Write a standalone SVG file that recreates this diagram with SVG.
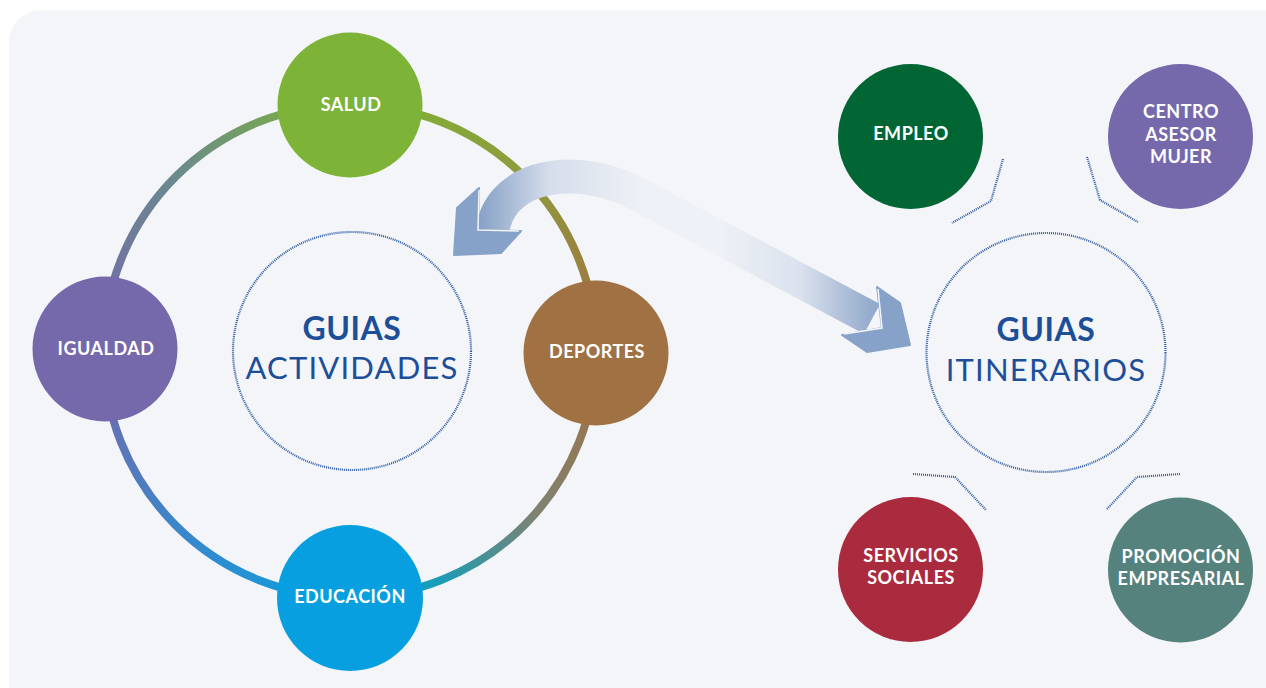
<svg xmlns="http://www.w3.org/2000/svg" width="1266" height="688" viewBox="0 0 1266 688">
<defs>
<style>
.lbl{font-family:Lato,"Open Sans","Liberation Sans",sans-serif;font-weight:700;font-size:18px;fill:#ffffff;text-anchor:middle;letter-spacing:0.5px}
.hub1{font-family:Lato,"Open Sans","Liberation Sans",sans-serif;font-weight:700;font-size:32px;fill:#1d4f99;text-anchor:middle;letter-spacing:0.5px}
.hub2{font-family:Lato,"Open Sans","Liberation Sans",sans-serif;font-weight:400;font-size:31px;fill:#1d4f99;text-anchor:middle;letter-spacing:1.2px}
.dot{fill:none;stroke:#2d5ca6;stroke-width:2.2;stroke-dasharray:1 1}
.ring{fill:none;stroke-width:8}
.chev{fill:#87a2c8;stroke:#87a2c8;stroke-width:2;stroke-linejoin:round}
</style>
<linearGradient id="gTR" gradientUnits="userSpaceOnUse" x1="350" y1="104" x2="596" y2="351"><stop offset="0" stop-color="#7db337"/><stop offset="0.5" stop-color="#8f9a3c"/><stop offset="1" stop-color="#a07243"/></linearGradient>
<linearGradient id="gBR" gradientUnits="userSpaceOnUse" x1="596" y1="351" x2="350" y2="598"><stop offset="0" stop-color="#a07243"/><stop offset="0.45" stop-color="#7f8270"/><stop offset="0.8" stop-color="#189db8"/><stop offset="1" stop-color="#089fe0"/></linearGradient>
<linearGradient id="gBL" gradientUnits="userSpaceOnUse" x1="350" y1="598" x2="104" y2="351"><stop offset="0" stop-color="#089fe0"/><stop offset="0.5" stop-color="#3d86c9"/><stop offset="1" stop-color="#7568ab"/></linearGradient>
<linearGradient id="gTL" gradientUnits="userSpaceOnUse" x1="104" y1="351" x2="350" y2="104"><stop offset="0" stop-color="#7568ab"/><stop offset="0.5" stop-color="#6a8a8e"/><stop offset="1" stop-color="#7db337"/></linearGradient>
<linearGradient id="gArrow" gradientUnits="userSpaceOnUse" x1="478" y1="0" x2="880" y2="0"><stop offset="0" stop-color="#86a0c6"/><stop offset="0.18" stop-color="#d6deeb"/><stop offset="0.4" stop-color="#edf0f6"/><stop offset="0.6" stop-color="#eef1f6"/><stop offset="0.8" stop-color="#dbe2ee"/><stop offset="0.95" stop-color="#9fb3d2"/><stop offset="1" stop-color="#8ea6c9"/></linearGradient>
</defs>
<rect x="9" y="10" width="1290" height="720" rx="32" fill="#f4f5f9"/>
<g id="connectors">
<path class="ring" stroke="url(#gTR)" d="M350,104.5 A246.5,246.5 0 0 1 596.5,351"/>
<path class="ring" stroke="url(#gBR)" d="M596.5,351 A246.5,246.5 0 0 1 350,597.5"/>
<path class="ring" stroke="url(#gBL)" d="M350,597.5 A246.5,246.5 0 0 1 103.5,351"/>
<path class="ring" stroke="url(#gTL)" d="M103.5,351 A246.5,246.5 0 0 1 350,104.5"/>
<polyline class="dot" points="1003,159 991,201 952,223"/>
<polyline class="dot" points="1087,157 1100,200 1138,222"/>
<polyline class="dot" points="913,474 955,477 986,510"/>
<polyline class="dot" points="1107,509 1137,477 1180,474"/>
<g id="double-arrow">
<path d="M492,233 C498,182 560,160 630,190 L872,319" fill="none" stroke="url(#gArrow)" stroke-width="34"/>
<polygon class="chev" points="479,188 457,208 454,255 501,253 521,231 478,230"/>
<polygon class="chev" points="877,287 900,303 910,345 867,352 842,335 882,328"/>
<polyline points="479,190 478,230 519,231" fill="none" stroke="#f4f5f9" stroke-width="1.5"/>
<polyline points="878,289 882,328 844,334" fill="none" stroke="#f4f5f9" stroke-width="1.5"/>
</g>
</g>
<g id="guias-actividades">
<circle class="dot" cx="352" cy="351" r="119"/>
<text class="hub1" x="352" y="340">GUIAS</text>
<text class="hub2" x="352" y="379">ACTIVIDADES</text>
</g>
<g id="guias-itinerarios">
<circle class="dot" cx="1046" cy="352.5" r="119.5"/>
<text class="hub1" x="1046" y="341">GUIAS</text>
<text class="hub2" x="1046" y="381">ITINERARIOS</text>
</g>
<g id="salud"><circle cx="350" cy="105" r="72.5" fill="#7db337"/><text class="lbl" x="351" y="111">SALUD</text></g>
<g id="deportes"><circle cx="596" cy="353" r="72.5" fill="#a07243"/><text class="lbl" x="597" y="358">DEPORTES</text></g>
<g id="educacion"><circle cx="350" cy="598" r="73" fill="#089fe0"/><text class="lbl" x="350" y="603">EDUCACIÓN</text></g>
<g id="igualdad"><circle cx="105" cy="349" r="72.5" fill="#7568ab"/><text class="lbl" x="106" y="355">IGUALDAD</text></g>
<g id="empleo"><circle cx="910.5" cy="136.5" r="72.5" fill="#026634"/><text class="lbl" x="911" y="140">EMPLEO</text></g>
<g id="centro-asesor-mujer"><circle cx="1180.5" cy="136.5" r="72.5" fill="#7669ab"/><text class="lbl" x="1181" y="118">CENTRO</text><text class="lbl" x="1181" y="141">ASESOR</text><text class="lbl" x="1181" y="163">MUJER</text></g>
<g id="servicios-sociales"><circle cx="910.5" cy="569.5" r="72.5" fill="#aa2b3e"/><text class="lbl" x="911" y="562">SERVICIOS</text><text class="lbl" x="911" y="584">SOCIALES</text></g>
<g id="promocion-empresarial"><circle cx="1180.5" cy="570" r="72.5" fill="#56827e"/><text class="lbl" x="1181" y="563">PROMOCIÓN</text><text class="lbl" x="1181" y="585">EMPRESARIAL</text></g>
</svg>
